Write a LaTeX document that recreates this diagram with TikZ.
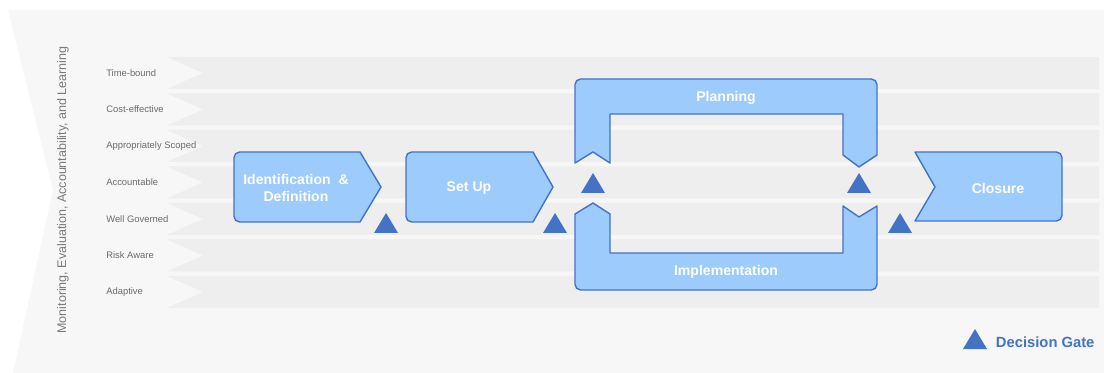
\documentclass[tikz,border=0pt]{standalone}
\usepackage{fontspec}
\setmainfont{Liberation Sans}
\usepackage{tikz}
\usetikzlibrary{calc}
\definecolor{pagebg}{HTML}{F7F7F7}
\definecolor{rowbg}{HTML}{EEEEEE}
\definecolor{phasefill}{HTML}{9DCBFC}
\definecolor{phaseline}{HTML}{4472C4}
\definecolor{rowtext}{HTML}{6B6B6B}
\definecolor{titletext}{HTML}{7A7A7A}
\def\gate(#1,#2){\fill[phaseline] (#1-12,#2) -- (#1+12,#2) -- (#1,#2-20) -- cycle;}

\begin{document}
\begin{tikzpicture}[x=0.025cm, y=-0.025cm,
	phase/.style={draw=phaseline, fill=phasefill, line width=1pt, line join=round},
	phasetext/.style={text=white, font=\fontsize{10}{12.5}\selectfont\bfseries, align=center},
	rowlabel/.style={text=rowtext, font=\fontsize{6.7}{8}\selectfont, anchor=west, inner sep=0pt}]
		%%%%% START %%%%%
		\useasboundingbox (0,0) rectangle (1104,373);
		
		\fill[pagebg] (8,10) -- (1104,10) -- (1104,373) -- (13,373) -- (53,190) -- cycle;
		\node[rotate=90, text=titletext, font=\fontsize{8.9}{10}\selectfont] (meal) at (63,190) {Monitoring, Evaluation, Accountability, and Learning};
		
		\fill[rowbg] (167,57) -- (1099,57) -- (1099,89) -- (167,89) -- (203,73) -- cycle;
		\fill[rowbg] (167,93.5) -- (1099,93.5) -- (1099,125.5) -- (167,125.5) -- (203,109.5) -- cycle;
		\fill[rowbg] (167,130) -- (1099,130) -- (1099,162) -- (167,162) -- (203,146) -- cycle;
		\fill[rowbg] (167,166.5) -- (1099,166.5) -- (1099,198.5) -- (167,198.5) -- (203,182.5) -- cycle;
		\fill[rowbg] (167,203) -- (1099,203) -- (1099,235) -- (167,235) -- (203,219) -- cycle;
		\fill[rowbg] (167,239.5) -- (1099,239.5) -- (1099,271.5) -- (167,271.5) -- (203,255.5) -- cycle;
		\fill[rowbg] (167,276) -- (1099,276) -- (1099,308) -- (167,308) -- (203,292) -- cycle;
		
		\node[rowlabel] (timebound) at (106,73) {Time-bound};
		\node[rowlabel] (costeff) at (106,109.5) {Cost-effective};
		\node[rowlabel] (scoped) at (106,146) {Appropriately Scoped};
		\node[rowlabel] (account) at (106,182.5) {Accountable};
		\node[rowlabel] (governed) at (106,219) {Well Governed};
		\node[rowlabel] (risk) at (106,255.5) {Risk Aware};
		\node[rowlabel] (adaptive) at (106,292) {Adaptive};
		
		\draw[phase] (360,152) [rounded corners=4pt] -- (234,152) -- (234,222) [sharp corners] -- (360,222) -- (381,187) -- cycle;
		\node[phasetext] (ident) at (296,188) {Identification \ \&\\Definition};
		\gate(386,233);
		
		\draw[phase] (533,152) [rounded corners=4pt] -- (406,152) -- (406,222) [sharp corners] -- (533,222) -- (553,187) -- cycle;
		\node[phasetext] (setup) at (469,188) {Set Up};
		\gate(555,233);
		
		\draw[phase] (877,155) [rounded corners=4pt] -- (877,79) -- (575,79) [sharp corners] -- (575,163) -- (593,152) -- (610,163) -- (610,114) -- (843,114) -- (843,155) -- (859,167) -- cycle;
		\node[phasetext] (planning) at (726,98) {Planning};
		
		\draw[phase] (877,206) [rounded corners=4pt] -- (877,290) -- (575,290) [sharp corners] -- (575,214) -- (593,203) -- (610,214) -- (610,253) -- (843,253) -- (843,206) -- (859,217) -- cycle;
		\node[phasetext] (implement) at (726,272) {Implementation};
		
		\gate(593,193);
		\gate(859,193);
		\gate(900,233);
		
		\draw[phase] (915,221) [rounded corners=4pt] -- (1062,221) -- (1062,152) [sharp corners] -- (915,152) -- (935,187) -- cycle;
		\node[phasetext] (closure) at (998,188) {Closure};
		
		\gate(975,349);
		\node[anchor=west, text=phaseline, font=\fontsize{10.5}{12}\selectfont\bfseries] (gatekey) at (991,342) {Decision Gate};
		
		%%%%% END %%%%%
	\end{tikzpicture}
\end{document}
